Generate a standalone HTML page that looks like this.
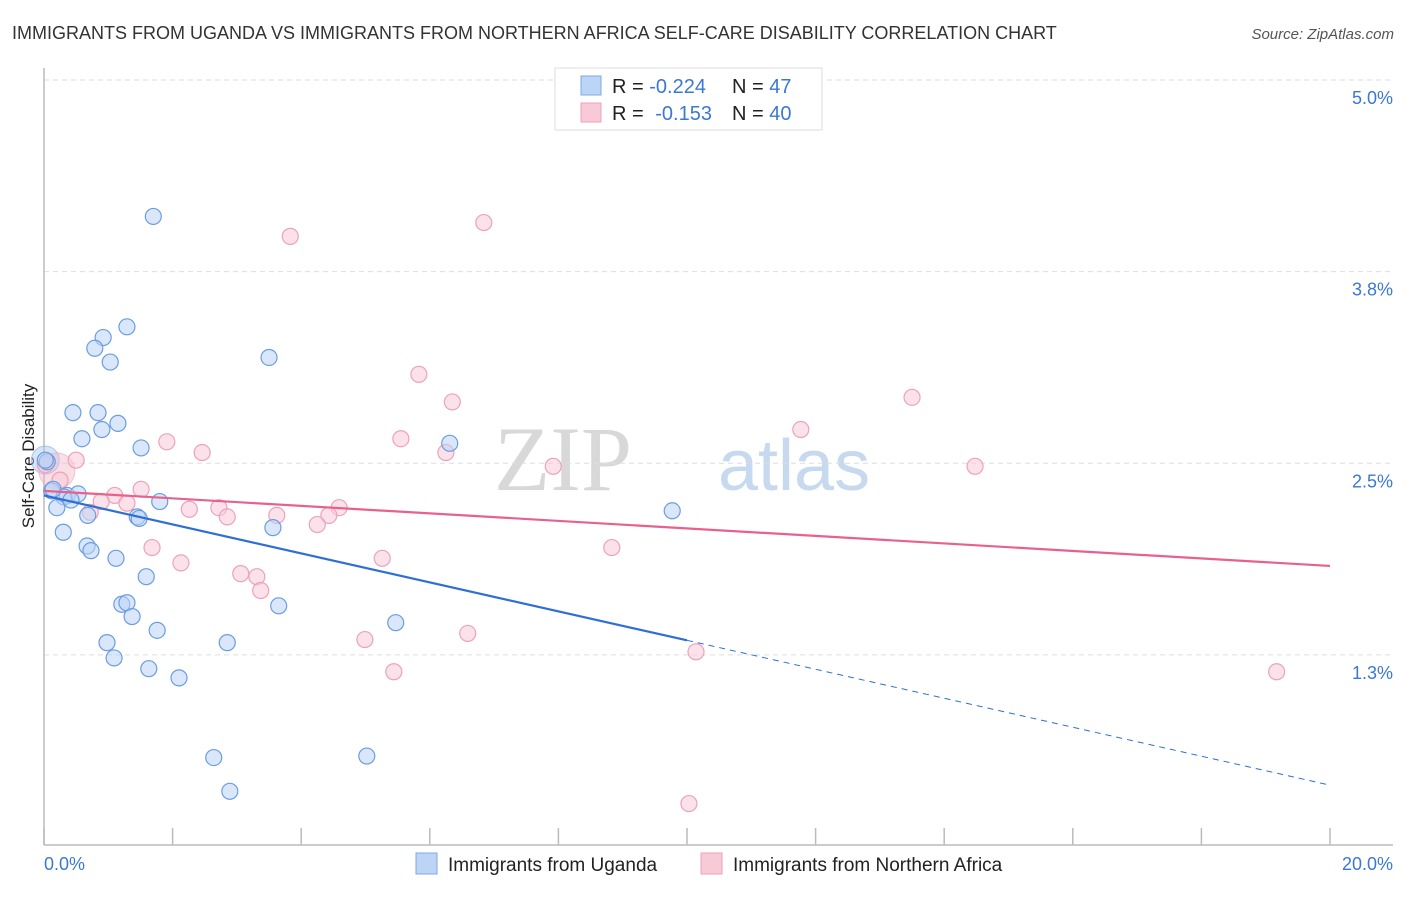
<!DOCTYPE html>
<html><head><meta charset="utf-8"><style>
body{margin:0;background:#fff;font-family:"Liberation Sans",sans-serif}
</style></head><body>
<svg id="c" width="1406" height="892" viewBox="0 0 1406 892" xmlns="http://www.w3.org/2000/svg" style="font-family:'Liberation Sans',sans-serif">
<text x="12" y="39" font-size="18" fill="#333">IMMIGRANTS FROM UGANDA VS IMMIGRANTS FROM NORTHERN AFRICA SELF-CARE DISABILITY CORRELATION CHART</text>
<text x="1394" y="39" font-size="15" fill="#555" font-style="italic" text-anchor="end">Source: ZipAtlas.com</text>
<g>
<text x="632" y="490" font-size="92" fill="#d8d8d8" text-anchor="end" font-family="Liberation Serif,serif">ZIP</text>
<text x="718" y="490" font-size="72" fill="#c7d9ef">atlas</text>
</g>
<g id="grid"></g>
<line x1="44" y1="68" x2="44" y2="845" stroke="#bbb" stroke-width="1.5"/>
<line x1="44" y1="845" x2="1393" y2="845" stroke="#bbb" stroke-width="1.5"/>
<text x="0" y="0" transform="translate(34,456) rotate(-90)" font-size="17" fill="#222" text-anchor="middle">Self-Care Disability</text>
<text x="44" y="870" font-size="18" fill="#3b78d4">0.0%</text>
<text x="1393" y="870" font-size="18" fill="#3b78d4" text-anchor="end">20.0%</text>
<g id="pts"></g>
<g id="lines"></g>
<g>
<rect x="555" y="68" width="267" height="62" fill="#fff" stroke="#ddd"/>
<rect x="581" y="76" width="20" height="19" fill="#bcd4f5" stroke="#7fa9e6"/>
<rect x="581" y="103" width="20" height="19" fill="#f8cad8" stroke="#eda2b9"/>
<text x="612" y="93" font-size="20" fill="#222">R = <tspan fill="#3b78d4">-0.224</tspan><tspan x="732">N = </tspan><tspan fill="#3b78d4">47</tspan></text>
<text x="612" y="120" font-size="20" fill="#222">R = <tspan fill="#3b78d4" dx="6">-0.153</tspan><tspan x="732">N = </tspan><tspan fill="#3b78d4">40</tspan></text>
</g>
<g>
<rect x="416" y="853" width="21" height="21" fill="#bcd4f5" stroke="#7fa9e6"/>
<text x="448" y="871" font-size="19" fill="#222">Immigrants from Uganda</text>
<rect x="701" y="853" width="21" height="21" fill="#f8cad8" stroke="#eda2b9"/>
<text x="733" y="871" font-size="19" fill="#222">Immigrants from Northern Africa</text>
</g>
</svg>
<script>
const yTicks=[5.0,3.75,2.5,1.25];
const yTickLabels=["5.0%","3.8%","2.5%","1.3%"];
const xTicks=[0,2,4,6,8,10,12,14,16,18,20];
const ugandaX=[1.70,1.29,0.92,0.79,1.03,3.50,0.45,0.84,1.15,0.90,0.59,1.51,6.31,0.05,0.12,0.36,0.53,0.31,0.42,0.20,0.68,1.80,1.45,1.48,3.56,0.30,0.67,0.73,1.12,1.59,9.77,1.21,1.29,1.37,3.65,5.47,1.76,0.98,2.85,1.09,1.63,2.10,2.64,5.02,2.89,0.14,0.02];
const ugandaY=[4.11,3.39,3.32,3.25,3.16,3.19,2.83,2.83,2.76,2.72,2.66,2.60,2.63,2.51,2.32,2.29,2.30,2.28,2.26,2.21,2.16,2.25,2.15,2.14,2.08,2.05,1.96,1.93,1.88,1.76,2.19,1.58,1.59,1.50,1.57,1.46,1.41,1.33,1.33,1.23,1.16,1.10,0.58,0.59,0.36,2.33,2.52];
const nafX=[6.84,3.83,5.83,6.35,13.50,11.77,1.91,5.55,6.25,2.46,0.50,7.92,14.48,0.02,0.25,1.51,1.10,0.89,1.29,2.26,2.72,4.59,3.62,2.85,0.72,4.43,4.25,1.68,8.83,2.13,5.26,3.06,3.31,3.37,4.99,6.59,5.44,10.14,19.17,10.03];
const nafY=[4.07,3.98,3.08,2.90,2.93,2.72,2.64,2.66,2.57,2.57,2.52,2.48,2.48,2.49,2.39,2.33,2.29,2.25,2.24,2.20,2.21,2.21,2.16,2.15,2.18,2.16,2.10,1.95,1.95,1.85,1.88,1.78,1.76,1.67,1.35,1.39,1.14,1.27,1.14,0.28];
const ugandaTrend=[2.29,0.40];
const nafTrend=[2.32,1.83];
const ugandaSolidEnd=10;
const NS="http://www.w3.org/2000/svg";
const X=v=>44+v*64.3;
const Y=v=>80+(5-v)*153.3;
function mk(tag,attrs,parent){const e=document.createElementNS(NS,tag);for(const k in attrs)e.setAttribute(k,attrs[k]);parent.appendChild(e);return e;}
const grid=document.getElementById('grid');
yTicks.forEach((t,i)=>{
 const l=mk('line',{x1:44,x2:1393,y1:Y(t),y2:Y(t),stroke:'#ddd','stroke-dasharray':'5,4'},grid);
 
 
 const tx=mk('text',{x:1393,y:Y(t)+24,'font-size':18,fill:'#3b78d4','text-anchor':'end'},grid);
 tx.textContent=yTickLabels[i];
 
 
});
xTicks.forEach(t=>{
 const l=mk('line',{x1:X(t),x2:X(t),y1:828,y2:845,stroke:'#bbb','stroke-width':1.5},grid);
 
 
});
const pts=document.getElementById('pts');
function big(x,y,r,fill,stroke){const c=mk('circle',{cx:X(x),cy:Y(y),r:r,fill:fill,'fill-opacity':0.45,stroke:stroke,'stroke-opacity':0.6},pts);return c;}
let b1=big(0.02,2.52,14,'#a9c6ef','#7fa9e6');


let b2=big(0.2,2.45,18,'#f4b6c8','#eda2b9');


nafX.forEach((x,i)=>{
 const c=mk('circle',{cx:X(x),cy:Y(nafY[i]),r:8,fill:'#f8cad8','fill-opacity':0.55,stroke:'#eda2b9','stroke-width':1.2},pts);
 
 
});
ugandaX.forEach((x,i)=>{
 const c=mk('circle',{cx:X(x),cy:Y(ugandaY[i]),r:8,fill:'#bcd4f5','fill-opacity':0.55,stroke:'#6b9de0','stroke-width':1.2},pts);
 
 
});
const lines=document.getElementById('lines');
const uy=x=>ugandaTrend[0]+(ugandaTrend[1]-ugandaTrend[0])*x/20;
let l1=mk('line',{x1:X(0),y1:Y(uy(0)),x2:X(ugandaSolidEnd),y2:Y(uy(ugandaSolidEnd)),stroke:'#2d6fd6','stroke-width':2.2},lines);


let l2=mk('line',{x1:X(ugandaSolidEnd),y1:Y(uy(ugandaSolidEnd)),x2:X(20),y2:Y(uy(20)),stroke:'#2d6fd6','stroke-width':1,'stroke-dasharray':'6,5'},lines);


let l3=mk('line',{x1:X(0),y1:Y(nafTrend[0]),x2:X(20),y2:Y(nafTrend[1]),stroke:'#e8618c','stroke-width':2.2},lines);


</script>
</body></html>
